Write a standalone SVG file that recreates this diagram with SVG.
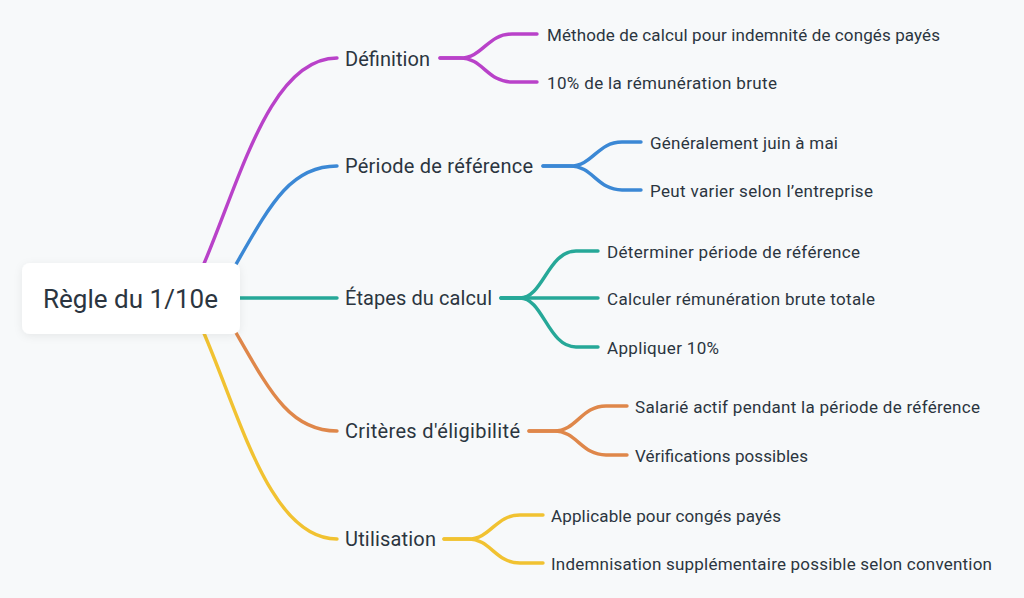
<svg xmlns="http://www.w3.org/2000/svg" width="1024" height="598" viewBox="0 0 1024 598">
  <defs>
    <filter id="shadow" x="-20%" y="-30%" width="140%" height="160%">
      <feDropShadow dx="0" dy="2" stdDeviation="4" flood-color="#000" flood-opacity="0.07"/>
    </filter>
    <style>
      .bg { fill: #f7f9fa; }
      .link { fill: none; stroke-width: 3.4; stroke-linecap: round; stroke-linejoin: round; }
      .c1 { stroke: #b942c9; }
      .c2 { stroke: #3b88d5; }
      .c3 { stroke: #26a898; }
      .c4 { stroke: #df874a; }
      .c5 { stroke: #f1c231; }
      .root-box { fill: #ffffff; }
      text { font-family: Roboto, "Liberation Sans", sans-serif; fill: #2b3540; }
      .root { font-size: 26px; }
      .l1 { font-size: 20px; }
      .l2 { font-size: 17px; }
    </style>
  </defs>
  <rect class="bg" x="0" y="0" width="1024" height="598"/>

  <g id="connectors">
    <!-- root to level 1 -->
    <path class="link c1" d="M 203 266 C 240 180, 270 58, 337 58"/>
    <path class="link c2" d="M 235 266 C 270 205, 290 166, 337 166"/>
    <path class="link c3" d="M 238 298 L 337 298"/>
    <path class="link c4" d="M 235 331 C 270 392, 290 431, 337 431"/>
    <path class="link c5" d="M 203 331 C 240 416, 270 539, 337 539"/>

    <!-- Définition -->
    <path class="link c1" d="M 440 58 L 460 58 C 483 58, 487 34, 512 34 L 537 34"/>
    <path class="link c1" d="M 440 58 L 460 58 C 483 58, 487 82, 512 82 L 537 82"/>
    <!-- Période -->
    <path class="link c2" d="M 543 166 L 570 166 C 593 166, 597 142, 622 142 L 641 142"/>
    <path class="link c2" d="M 543 166 L 570 166 C 593 166, 597 190, 622 190 L 641 190"/>
    <!-- Étapes -->
    <path class="link c3" d="M 501 298 L 520 298 C 543 298, 548 251, 576 251 L 598 251"/>
    <path class="link c3" d="M 501 298 L 598 298"/>
    <path class="link c3" d="M 501 298 L 520 298 C 543 298, 548 347, 576 347 L 598 347"/>
    <!-- Critères -->
    <path class="link c4" d="M 529 431 L 554 431 C 577 431, 581 406, 606 406 L 627 406"/>
    <path class="link c4" d="M 529 431 L 554 431 C 577 431, 581 455, 606 455 L 627 455"/>
    <!-- Utilisation -->
    <path class="link c5" d="M 444 539 L 468 539 C 491 539, 495 515, 520 515 L 543 515"/>
    <path class="link c5" d="M 444 539 L 468 539 C 491 539, 495 563, 520 563 L 543 563"/>
  </g>

  <g id="root">
    <rect class="root-box" x="22" y="263" width="218" height="71" rx="8" filter="url(#shadow)"/>
    <text class="root" x="43" y="308" textLength="175">Règle du 1/10e</text>
  </g>

  <g id="definition">
    <text class="l1" x="345" y="66" textLength="85">Définition</text>
  </g>
  <g id="periode">
    <text class="l1" x="345" y="173" textLength="188">Période de référence</text>
  </g>
  <g id="etapes">
    <text class="l1" x="345" y="305" textLength="147">Étapes du calcul</text>
  </g>
  <g id="criteres">
    <text class="l1" x="345" y="438" textLength="175">Critères d'éligibilité</text>
  </g>
  <g id="utilisation">
    <text class="l1" x="345" y="546" textLength="91">Utilisation</text>
  </g>

  <g id="def-1"><text class="l2" x="547" y="40.5" textLength="393">Méthode de calcul pour indemnité de congés payés</text></g>
  <g id="def-2"><text class="l2" x="547" y="88.5" textLength="230">10% de la rémunération brute</text></g>
  <g id="per-1"><text class="l2" x="650" y="148.5" textLength="188">Généralement juin à mai</text></g>
  <g id="per-2"><text class="l2" x="650" y="196.5" textLength="223">Peut varier selon l’entreprise</text></g>
  <g id="eta-1"><text class="l2" x="607" y="257.5" textLength="253">Déterminer période de référence</text></g>
  <g id="eta-2"><text class="l2" x="607" y="304.5" textLength="268">Calculer rémunération brute totale</text></g>
  <g id="eta-3"><text class="l2" x="607" y="353.5" textLength="112">Appliquer 10%</text></g>
  <g id="cri-1"><text class="l2" x="635" y="412.5" textLength="345">Salarié actif pendant la période de référence</text></g>
  <g id="cri-2"><text class="l2" x="635" y="461.5" textLength="173">Vérifications possibles</text></g>
  <g id="uti-1"><text class="l2" x="551" y="521.5" textLength="230">Applicable pour congés payés</text></g>
  <g id="uti-2"><text class="l2" x="551" y="569.5" textLength="441">Indemnisation supplémentaire possible selon convention</text></g>
</svg>
